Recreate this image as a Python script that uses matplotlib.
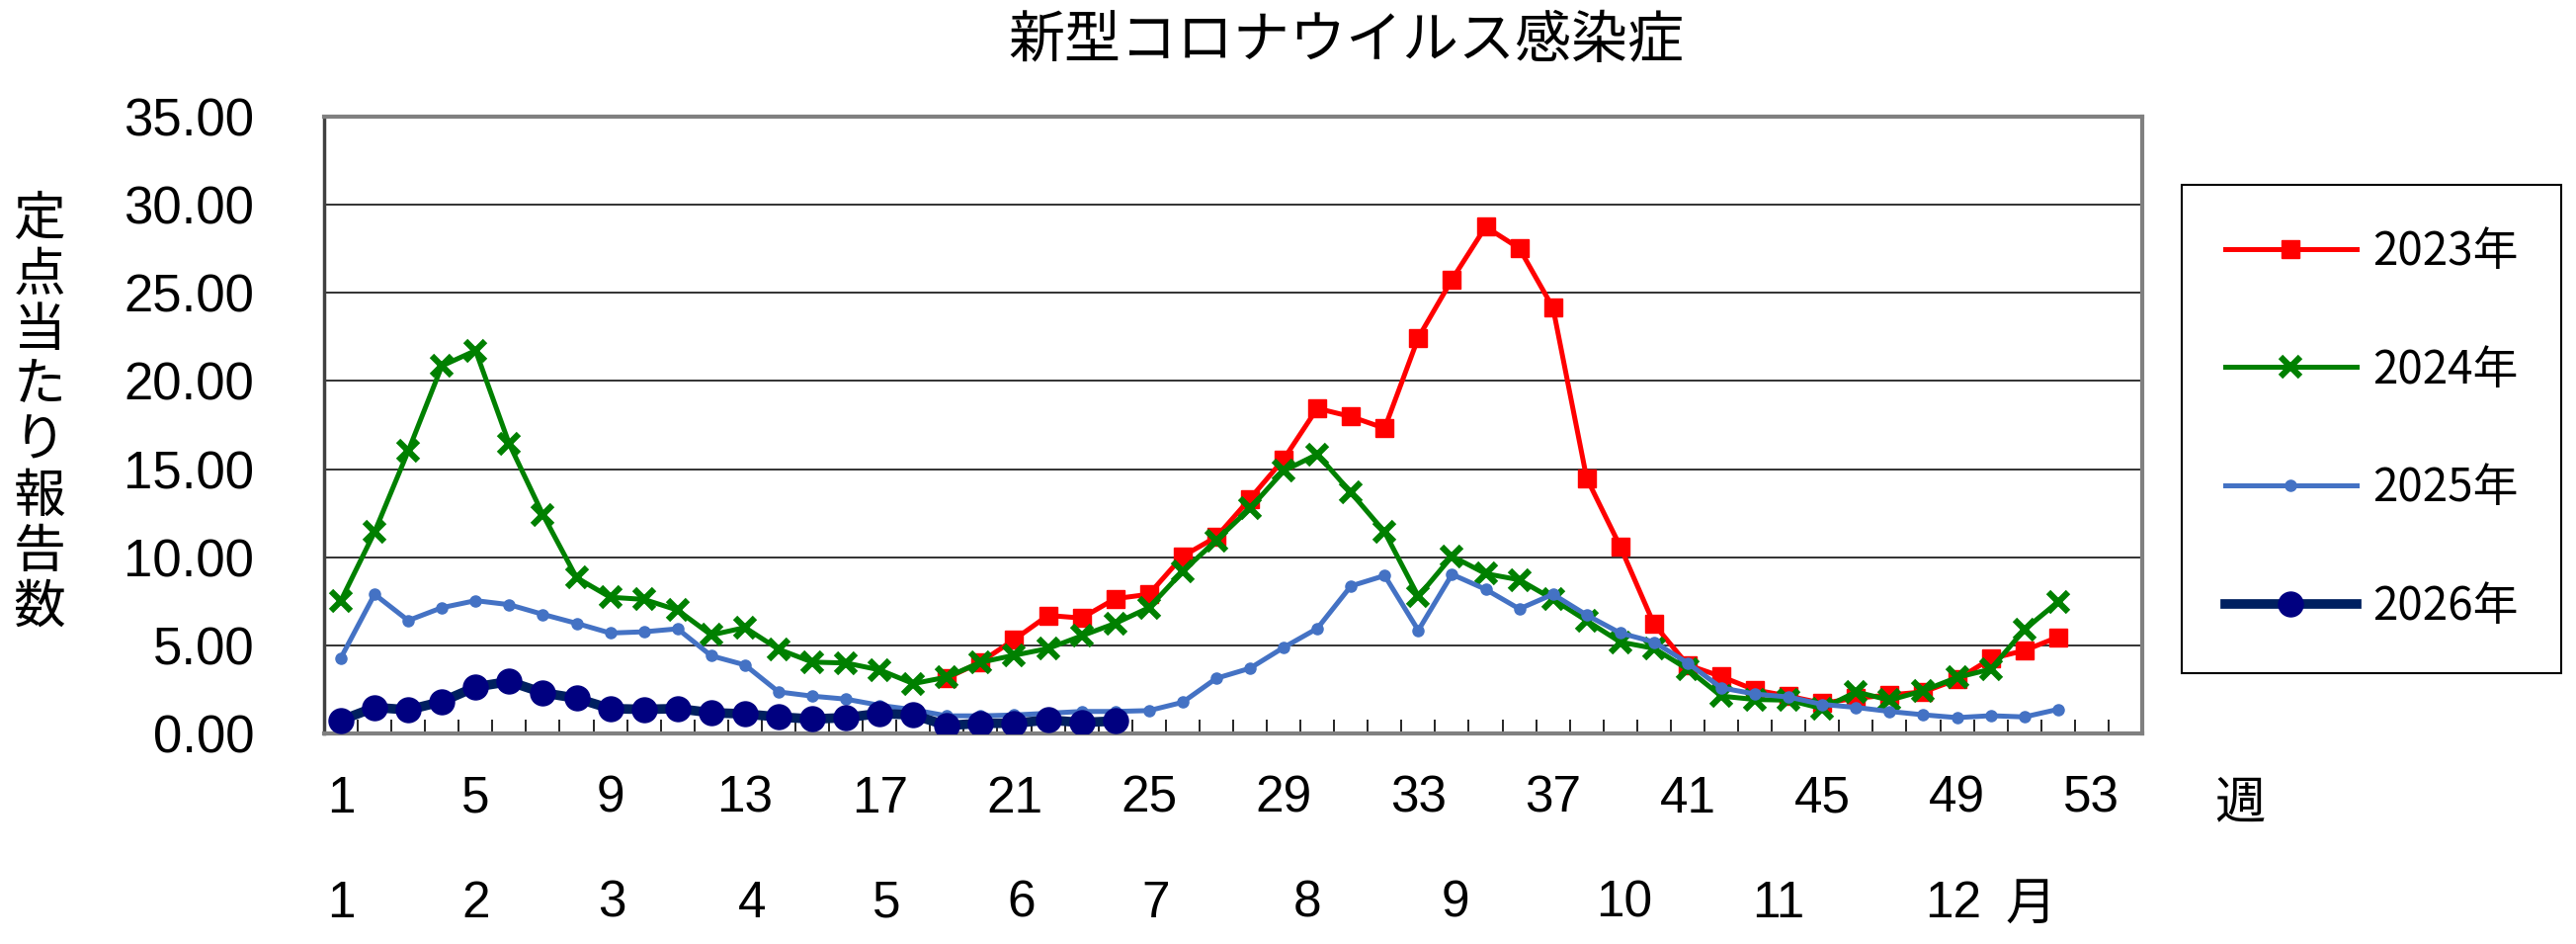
import matplotlib
matplotlib.use("Agg")
import matplotlib.pyplot as plt
import numpy as np
from matplotlib import font_manager

weeks = np.arange(1, 53)
nan = np.nan

# 2023 starts at week 19
y2023 = [nan] * 18 + [3.15, 4.05, 5.33, 6.70, 6.55, 7.65, 7.90, 10.06, 11.15, 13.32,
                      15.56, 18.45, 17.98, 17.32, 22.46, 25.76, 28.75, 27.53, 24.16, 14.49,
                      10.60, 6.20, 3.89, 3.23, 2.47, 2.12, 1.72, 2.00, 2.19, 2.36,
                      3.06, 4.24, 4.71, 5.47]
y2024 = [7.54, 11.43, 16.03, 20.86, 21.73, 16.43, 12.42, 8.84, 7.73, 7.61,
         7.00, 5.59, 6.01, 4.78, 4.05, 4.00, 3.61, 2.83, 3.20, 4.04,
         4.44, 4.82, 5.54, 6.25, 7.14, 9.19, 10.96, 12.77, 14.90, 15.84,
         13.67, 11.43, 7.78, 10.06, 9.07, 8.72, 7.62, 6.40, 5.19, 4.83,
         3.65, 2.12, 1.93, 1.89, 1.41, 2.36, 1.89, 2.43, 3.18, 3.65,
         5.89, 7.47]
y2025 = [4.29, 7.90, 6.41, 7.14, 7.54, 7.31, 6.76, 6.25, 5.70, 5.77,
         5.94, 4.41, 3.89, 2.36, 2.12, 1.95, 1.60, 1.35, 1.00, 1.00,
         1.05, 1.15, 1.25, 1.25, 1.30, 1.77, 3.13, 3.70, 4.88, 5.96,
         8.37, 8.96, 5.85, 9.03, 8.18, 7.07, 7.90, 6.72, 5.70, 5.19,
         4.00, 2.59, 2.24, 2.07, 1.65, 1.48, 1.25, 1.06, 0.90, 1.01,
         0.94, 1.37]
y2026 = [0.75, 1.48, 1.34, 1.81, 2.64, 2.95, 2.31, 2.00, 1.41, 1.37,
         1.41, 1.18, 1.11, 0.94, 0.82, 0.90, 1.14, 1.05, 0.45, 0.58,
         0.58, 0.77, 0.62, 0.71]

series_labels = ["2023年", "2024年", "2025年", "2026年"]
week_ticks = list(range(1, 54, 4))
month_labels = ["1", "2", "3", "4", "5", "6", "7", "8", "9", "10", "11", "12"]
month_pos = [1.0, 5.0, 9.05, 13.2, 17.2, 21.2, 25.2, 29.7, 34.1, 39.1, 43.7, 48.9]
y_ticks = list(range(0, 36, 5))

JP = ["Noto Sans CJK JP", "DejaVu Sans"]
names = {f.name for f in font_manager.fontManager.ttflist}
NARROW = "Liberation Sans Narrow" if "Liberation Sans Narrow" in names else "Liberation Sans"

fig = plt.figure(figsize=(26.07, 9.55), dpi=100)
ax = fig.add_axes([0.1258, 0.2230, 0.7058, 0.6534])

ax.plot(weeks, y2023, color="#FF0000", lw=3.6, marker="s", ms=13, label=series_labels[0], zorder=3)
ax.plot(weeks, y2024, color="#008000", lw=3.6, marker="x", ms=14, mew=4.5, label=series_labels[1], zorder=4)
ax.plot(weeks, y2025, color="#4472C4", lw=3.6, marker="o", ms=8, label=series_labels[2], zorder=5)
ax.plot(weeks[:len(y2026)], y2026, color="#002060", lw=7, marker="o", ms=18,
        mfc="#000080", mec="#000080", label=series_labels[3], zorder=6)

ax.set_xlim(0.5, 54.5)
ax.set_ylim(0, 35)

ax.set_yticks(y_ticks)
ax.set_yticklabels([f"{v:.2f}" for v in y_ticks], family="Liberation Sans", fontsize=38)
ax.tick_params(axis="y", length=0, pad=51)
ax.grid(axis="y", color="#222222", lw=1.3, zorder=1)

ax.set_xticks(week_ticks)
ax.set_xticklabels([str(w) for w in week_ticks], family=NARROW, fontsize=37)
ax.tick_params(axis="x", which="major", length=0, pad=30)
ax.set_xticks(np.arange(0.5, 55, 1), minor=True)
ax.tick_params(axis="x", which="minor", direction="in", length=10, width=1.2, color="black")

for side in ["top", "right", "bottom"]:
    ax.spines[side].set_color("#808080")
    ax.spines[side].set_linewidth(3)
ax.spines["left"].set_color("#404040")
ax.spines["left"].set_linewidth(2.5)

xt = ax.get_xaxis_transform()
for lab, pos in zip(month_labels, month_pos):
    ax.text(pos, -0.276, lab, transform=xt, ha="center", va="center",
            family=NARROW, fontsize=37, clip_on=False)
ax.text(51.2, -0.279, "月", transform=xt, ha="center", va="center", family=JP, fontsize=37)
ax.text(57.4, -0.115, "週", transform=xt, ha="center", va="center", family=JP, fontsize=37)

fig.text(0.5225, 0.956, "新型コロナウイルス感染症", ha="center", va="center", family=JP, fontsize=41)

ylab = "定点当たり報告数"
for i, ch in enumerate(ylab):
    fig.text(40 / 2607, 1 - (222 + 56 * i) / 955, ch, ha="center", va="center",
             family=JP, fontsize=38)

leg = ax.legend(loc="center", bbox_to_anchor=(0.9206, 0.5455), bbox_transform=fig.transFigure,
                prop={"family": JP, "size": 33}, frameon=True, fancybox=False,
                edgecolor="black", framealpha=1, borderpad=0.95, labelspacing=1.55,
                handlelength=2.9, handletextpad=0.35)
leg.get_frame().set_linewidth(1.5)

fig.savefig("out.png", dpi=100)
plt.close(fig)
